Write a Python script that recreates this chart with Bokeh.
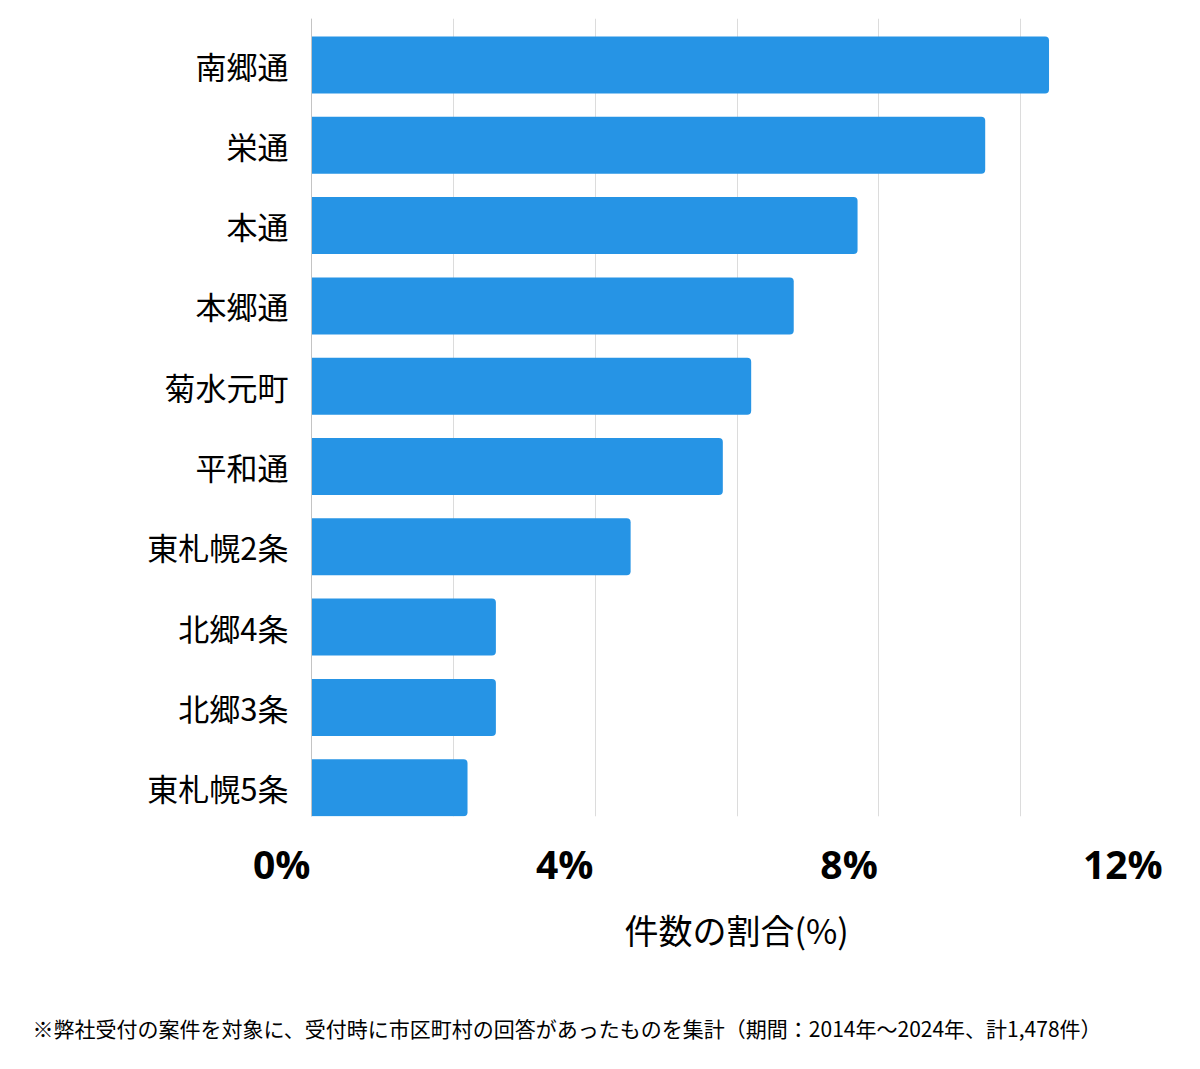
from bokeh.plotting import figure
from bokeh.models import Range1d, FixedTicker, Span, Title
from bokeh.layouts import column
from bokeh.embed import file_html
from bokeh.resources import INLINE

categories = ["南郷通", "栄通", "本通", "本郷通", "菊水元町", "平和通", "東札幌2条", "北郷4条", "北郷3条", "東札幌5条"]
shares = [10.4, 9.5, 7.7, 6.8, 6.2, 5.8, 4.5, 2.6, 2.6, 2.2]
x_tick_values = [0, 4, 8, 12]
x_tick_labels = ["0%", "4%", "8%", "12%"]
grid_ticks = [0, 2, 4, 6, 8, 10, 12]
x_title = "件数の割合(%)"
footnote = "※弊社受付の案件を対象に、受付時に市区町村の回答があったものを集計（期間：2014年～2024年、計1,478件）"

W = 1200
MAIN_H, FOOT_H = 1000, 69
zero_px, right, top, bottom = 311, 1162, 18, 816
px_per = (right - zero_px) / 12.0
frame_left = 279
slot = 80.3
first_center = 64.5
idx = list(range(len(categories)))

# tick labels are drawn right-aligned at their tick: centre = tick - half label width (in %)
label_half_widths = [0.42, 0.43, 0.42, 0.56]
label_pos = [v - h for v, h in zip(x_tick_values, label_half_widths)]

p = figure(width=W, height=MAIN_H, output_backend="svg", toolbar_location=None,
           x_range=Range1d((frame_left - zero_px) / px_per, 12),
           y_range=Range1d((bottom - first_center) / slot, (top - first_center) / slot),
           min_border_left=frame_left, min_border_right=W - right,
           min_border_top=top, min_border_bottom=MAIN_H - bottom)
p.outline_line_color = None
p.background_fill_color = "white"
p.border_fill_color = "white"

p.xgrid.ticker = FixedTicker(ticks=grid_ticks)
p.xgrid.grid_line_color = "#dcdcdc"
p.ygrid.grid_line_color = None
p.add_layout(Span(location=0, dimension="height", line_color="#c4c4c4", line_width=1))

p.hbar(y=idx, right=shares, left=0, height=57 / slot, color="#2694e5",
       line_color=None, border_radius=(0, 4, 4, 0))

# x axis
xa = p.xaxis[0]
xa.ticker = FixedTicker(ticks=label_pos)
xa.major_label_overrides = {t: l for t, l in zip(label_pos, x_tick_labels)}
xa.major_label_text_font = "Open Sans"
xa.major_label_text_font_style = "bold"
xa.major_label_text_font_size = "39px"
xa.major_label_text_color = "black"
xa.major_label_standoff = 14
xa.major_tick_line_color = None
xa.minor_tick_line_color = None
xa.axis_line_color = None

# y axis
ya = p.yaxis[0]
ya.ticker = FixedTicker(ticks=idx)
ya.major_label_overrides = {i: c for i, c in zip(idx, categories)}
ya.major_label_text_font = "Noto Sans CJK JP"
ya.major_label_text_font_size = "31px"
ya.major_label_text_color = "black"
ya.major_label_standoff = -15
ya.major_tick_line_color = None
ya.minor_tick_line_color = None
ya.axis_line_color = None

# axis title centred under the 0-12% span
p.add_layout(Title(text=x_title, align="left", offset=345, standoff=21,
                   text_font="Noto Sans CJK JP", text_font_size="34px",
                   text_font_style="normal", text_color="black"), "below")

# footnote strip (its frame is aligned with the main frame by the column layout)
f = figure(width=W, height=FOOT_H, output_backend="svg", toolbar_location=None,
           x_range=Range1d(0, 1), y_range=Range1d(0, 1),
           x_axis_type=None, y_axis_type=None,
           min_border_left=frame_left, min_border_right=W - right,
           min_border_top=0, min_border_bottom=60)
f.outline_line_color = None
f.grid.grid_line_color = None
f.background_fill_color = "white"
f.border_fill_color = "white"
f.add_layout(Title(text=footnote, align="left", offset=32 - frame_left, standoff=2,
                   text_font="Noto Sans CJK JP", text_font_size="21px",
                   text_font_style="normal", text_color="black"), "below")

layout = column(p, f, spacing=0)
open("out.html", "w").write(file_html(layout, INLINE))
